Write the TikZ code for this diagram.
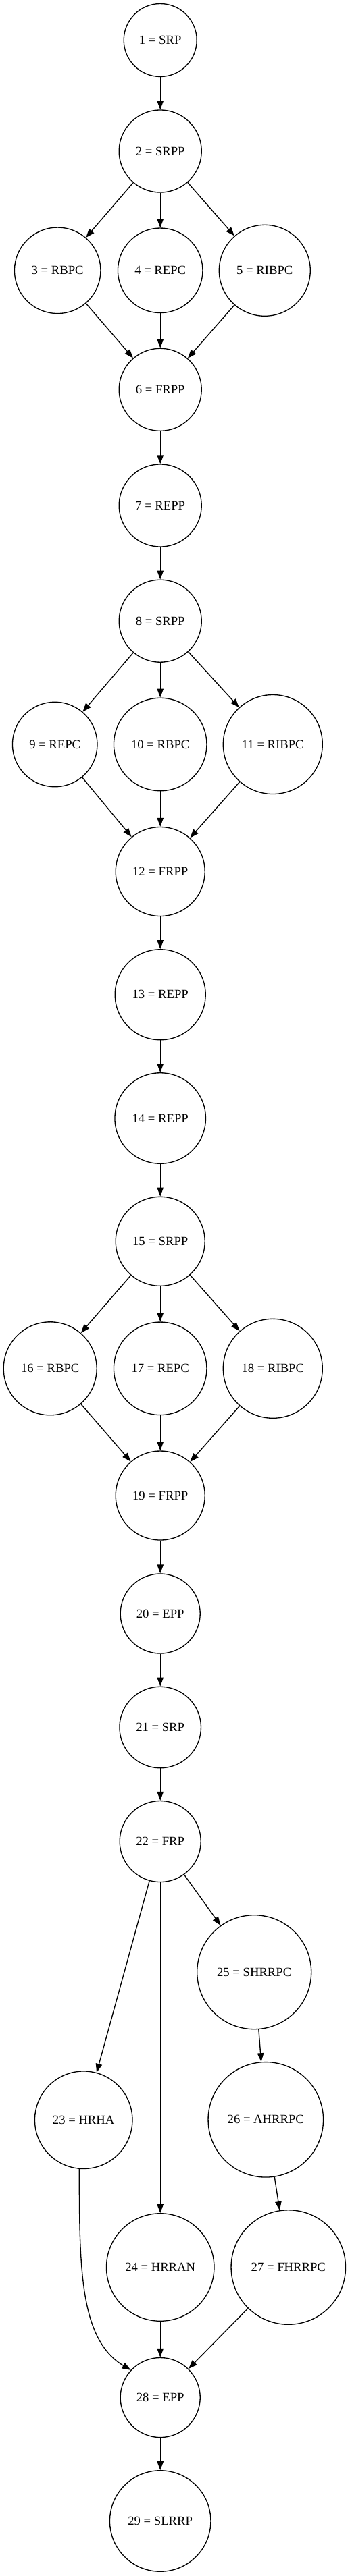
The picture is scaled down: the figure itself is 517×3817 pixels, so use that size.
\documentclass[tikz,border=0pt]{standalone}
\usepackage{fontspec}
\setmainfont{Liberation Serif}
\usepackage{tikz}
\usetikzlibrary{positioning,arrows.meta}
\tikzset{
  st/.style={circle, fill=white, draw=black, line width=1.33pt, inner sep=0pt,
    minimum size=#1, font=\fontsize{18.67}{22}\selectfont},
  ed/.style={draw=black, line width=1.33pt, -{Triangle[length=13pt,width=9.5pt]}},
  pgraph/.style={x=1pt, y=-1pt}
}

\begin{document}
\begin{tikzpicture}[pgraph]
  \useasboundingbox (0,0) rectangle (517,3817);
  % first block
  \node[st=108] (n1) at (237.2,59.5) {1 = SRP};
  \node[st=122] (n2) at (237.2,224) {2 = SRPP};
  \node[st=127.5] (n3) at (85.2,400.8) {3 = RBPC};
  \node[st=125.5] (n4) at (237.2,400.8) {4 = REPC};
  \node[st=135] (n5) at (391.8,400.8) {5 = RIBPC};
  \node[st=122] (n6) at (237.2,577.3) {6 = FRPP};
  \node[st=122] (n7) at (237.2,749) {7 = REPP};
  % second block
  \node[st=122] (n8) at (237.2,920.2) {8 = SRPP};
  \node[st=125.5] (n9) at (81.2,1103) {9 = REPC};
  \node[st=137.5] (n10) at (237.2,1103) {10 = RBPC};
  \node[st=147] (n11) at (403.8,1103) {11 = RIBPC};
  \node[st=132] (n12) at (237.2,1291.5) {12 = FRPP};
  \node[st=134] (n13) at (237.2,1473.8) {13 = REPP};
  \node[st=134.5] (n14) at (237.2,1657) {14 = REPP};
  % third block
  \node[st=132] (n15) at (237.2,1839.3) {15 = SRPP};
  \node[st=138] (n16) at (74.2,2027.8) {16 = RBPC};
  \node[st=137.5] (n17) at (237.2,2027.8) {17 = REPC};
  \node[st=147] (n18) at (403.8,2027.8) {18 = RIBPC};
  \node[st=132] (n19) at (237.2,2216) {19 = FRPP};
  \node[st=118] (n20) at (237.2,2391) {20 = EPP};
  % last block
  \node[st=120.5] (n21) at (237.2,2559.5) {21 = SRP};
  \node[st=120] (n22) at (237.2,2728.5) {22 = FRP};
  \node[st=169] (n25) at (376.2,2922.2) {25 = SHRRPC};
  \node[st=144.5] (n23) at (123.7,3141.2) {23 = HRHA};
  \node[st=170.5] (n26) at (393.3,3140.8) {26 = AHRRPC};
  \node[st=159.5] (n24) at (237.2,3359.5) {24 = HRRAN};
  \node[st=169.5] (n27) at (426.8,3359.5) {27 = FHRRPC};
  \node[st=118] (n28) at (237.2,3552.5) {28 = EPP};
  \node[st=149.5] (n29) at (237.2,3735.5) {29 = SLRRP};

  \draw[ed] (n1) -- (n2);
  \draw[ed] (n2) -- (n3);
  \draw[ed] (n2) -- (n4);
  \draw[ed] (n2) -- (n5);
  \draw[ed] (n3) -- (n6);
  \draw[ed] (n4) -- (n6);
  \draw[ed] (n5) -- (n6);
  \draw[ed] (n6) -- (n7);
  \draw[ed] (n7) -- (n8);
  \draw[ed] (n8) -- (n9);
  \draw[ed] (n8) -- (n10);
  \draw[ed] (n8) -- (n11);
  \draw[ed] (n9) -- (n12);
  \draw[ed] (n10) -- (n12);
  \draw[ed] (n11) -- (n12);
  \draw[ed] (n12) -- (n13);
  \draw[ed] (n13) -- (n14);
  \draw[ed] (n14) -- (n15);
  \draw[ed] (n15) -- (n16);
  \draw[ed] (n15) -- (n17);
  \draw[ed] (n15) -- (n18);
  \draw[ed] (n16) -- (n19);
  \draw[ed] (n17) -- (n19);
  \draw[ed] (n18) -- (n19);
  \draw[ed] (n19) -- (n20);
  \draw[ed] (n20) -- (n21);
  \draw[ed] (n21) -- (n22);
  \draw[ed] (n22) -- (n23);
  \draw[ed] (n22) -- (n24);
  \draw[ed] (n22) -- (n25);
  \draw[ed] (n25) -- (n26);
  \draw[ed] (n26) -- (n27);
  \draw[ed] (n23.-95) .. controls +(0,150) and +(-75,-45) .. (n28.137);
  \draw[ed] (n24) -- (n28);
  \draw[ed] (n27) -- (n28);
  \draw[ed] (n28) -- (n29);
\end{tikzpicture}
\end{document}
